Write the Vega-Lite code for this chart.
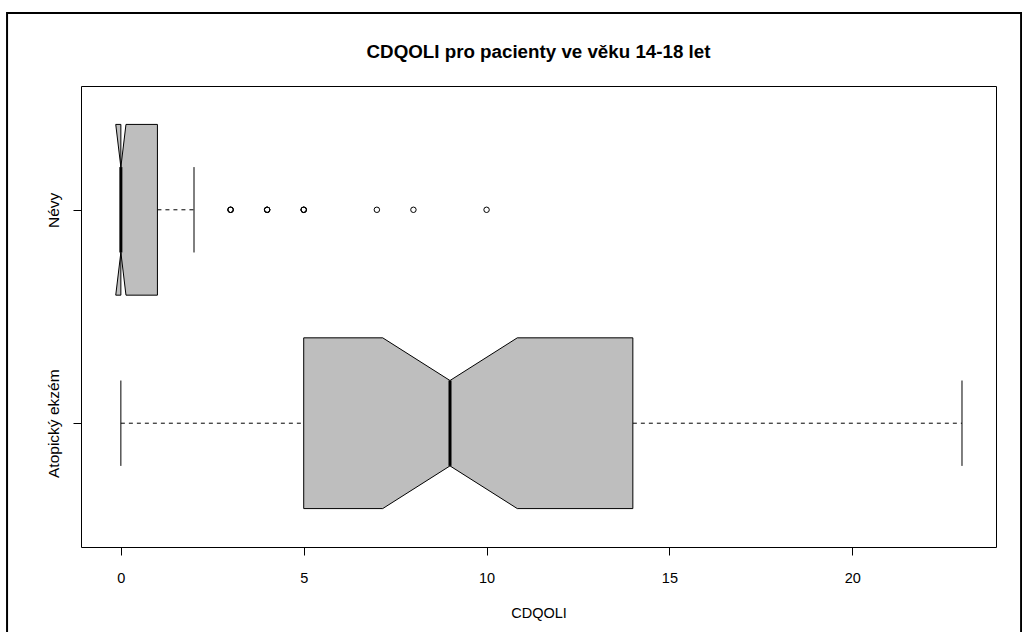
{
  "$schema": "https://vega.github.io/schema/vega-lite/v6.json",
  "width": 915,
  "height": 461,
  "autosize": "none",
  "padding": {"left": 81, "top": 86, "right": 26, "bottom": 85},
  "background": "white",
  "title": {
    "text": "CDQOLI pro pacienty ve věku 14-18 let",
    "font": "Liberation Sans",
    "fontSize": 18.75,
    "fontWeight": "bold",
    "color": "black",
    "anchor": "middle",
    "baseline": "alphabetic",
    "offset": -65
  },
  "config": {
    "view": {"stroke": "black", "strokeWidth": 1},
    "font": "Liberation Sans",
    "axis": {
      "labelFont": "Liberation Sans",
      "titleFont": "Liberation Sans",
      "labelColor": "black",
      "titleColor": "black",
      "tickColor": "black",
      "grid": false,
      "domain": false
    }
  },
  "datasets": {
    "stats": [
      {"grp": "Atopický ekzém", "pos": 1, "wlo": 0, "q1": 5, "nlo": 7.16, "med": 9, "nhi": 10.84, "q3": 14, "whi": 23},
      {"grp": "Névy", "pos": 2, "wlo": 0, "q1": 0, "nlo": -0.14, "med": 0, "nhi": 0.14, "q3": 1, "whi": 2}
    ],
    "outliers": [
      {"grp": "Névy", "pos": 2, "v": 3},
      {"grp": "Névy", "pos": 2, "v": 3},
      {"grp": "Névy", "pos": 2, "v": 3},
      {"grp": "Névy", "pos": 2, "v": 4},
      {"grp": "Névy", "pos": 2, "v": 4},
      {"grp": "Névy", "pos": 2, "v": 4},
      {"grp": "Névy", "pos": 2, "v": 5},
      {"grp": "Névy", "pos": 2, "v": 5},
      {"grp": "Névy", "pos": 2, "v": 5},
      {"grp": "Névy", "pos": 2, "v": 7},
      {"grp": "Névy", "pos": 2, "v": 8},
      {"grp": "Névy", "pos": 2, "v": 10}
    ]
  },
  "data": {"name": "stats"},
  "layer": [
    {
      "data": {"values": [{}]},
      "mark": {"type": "rect", "fill": null, "stroke": "black", "strokeWidth": 2, "clip": false},
      "encoding": {
        "x": {"datum": -3.112, "type": "quantitative", "scale": {"domain": [-1.09, 23.93], "nice": false, "zero": false},
          "axis": {"values": [0, 5, 10, 15, 20], "tickSize": 8, "labelFontSize": 14.5, "labelBaseline": "alphabetic", "labelPadding": 27, "labelFlush": false, "labelOverlap": false, "title": "CDQOLI", "titleFontSize": 14.5, "titleFontWeight": "normal", "titleBaseline": "alphabetic", "titleY": 70}},
        "x2": {"datum": 24.616},
        "y": {"datum": 2.922, "type": "quantitative", "scale": {"domain": [0.42, 2.58], "nice": false, "zero": false},
          "axis": {"values": [1, 2], "labelExpr": "datum.value == 1 ? 'Atopický ekzém' : 'Névy'", "labelAngle": 270, "labelAlign": "center", "labelBaseline": "alphabetic", "labelPadding": 15, "tickSize": 8, "labelFontSize": 15.5, "title": null}},
        "y2": {"datum": -0.4}
      }
    },
    {
      "mark": {"type": "rule", "stroke": "black", "strokeWidth": 1, "strokeDash": [4, 4]},
      "encoding": {
        "x": {"field": "wlo", "type": "quantitative"},
        "x2": {"field": "q1"},
        "y": {"field": "pos", "type": "quantitative"}
      }
    },
    {
      "mark": {"type": "rule", "stroke": "black", "strokeWidth": 1, "strokeDash": [4, 4]},
      "encoding": {
        "x": {"field": "q3", "type": "quantitative"},
        "x2": {"field": "whi"},
        "y": {"field": "pos", "type": "quantitative"}
      }
    },
    {
      "transform": [
        {"fold": ["wlo", "whi"], "as": ["k", "xv"]},
        {"calculate": "datum.pos - 0.2", "as": "ylo"},
        {"calculate": "datum.pos + 0.2", "as": "yhi"}
      ],
      "mark": {"type": "rule", "stroke": "black", "strokeWidth": 1},
      "encoding": {
        "x": {"field": "xv", "type": "quantitative"},
        "y": {"field": "ylo", "type": "quantitative"},
        "y2": {"field": "yhi"}
      }
    },
    {
      "transform": [
        {"fold": ["q1", "nlo", "med", "nhi", "q3"], "as": ["k", "xv"]},
        {"calculate": "datum.k == 'med' ? 0.2 : 0.4", "as": "hw"},
        {"calculate": "datum.pos - datum.hw", "as": "ylo"},
        {"calculate": "datum.pos + datum.hw", "as": "yhi"}
      ],
      "mark": {"type": "area", "orient": "vertical", "fill": "#BEBEBE", "fillOpacity": 1, "stroke": "black", "strokeWidth": 1, "interpolate": "linear"},
      "encoding": {
        "x": {"field": "xv", "type": "quantitative"},
        "y": {"field": "yhi", "type": "quantitative", "stack": null},
        "y2": {"field": "ylo"},
        "order": {"value": null},
        "detail": {"field": "grp", "type": "nominal"}
      }
    },
    {
      "transform": [
        {"calculate": "datum.pos - 0.2", "as": "ylo"},
        {"calculate": "datum.pos + 0.2", "as": "yhi"}
      ],
      "mark": {"type": "rule", "stroke": "black", "strokeWidth": 3},
      "encoding": {
        "x": {"field": "med", "type": "quantitative"},
        "y": {"field": "ylo", "type": "quantitative"},
        "y2": {"field": "yhi"}
      }
    },
    {
      "data": {"name": "outliers"},
      "mark": {"type": "point", "shape": "circle", "filled": false, "stroke": "black", "strokeWidth": 1, "size": 30, "opacity": 1},
      "encoding": {
        "x": {"field": "v", "type": "quantitative"},
        "y": {"field": "pos", "type": "quantitative"}
      }
    }
  ]
}
